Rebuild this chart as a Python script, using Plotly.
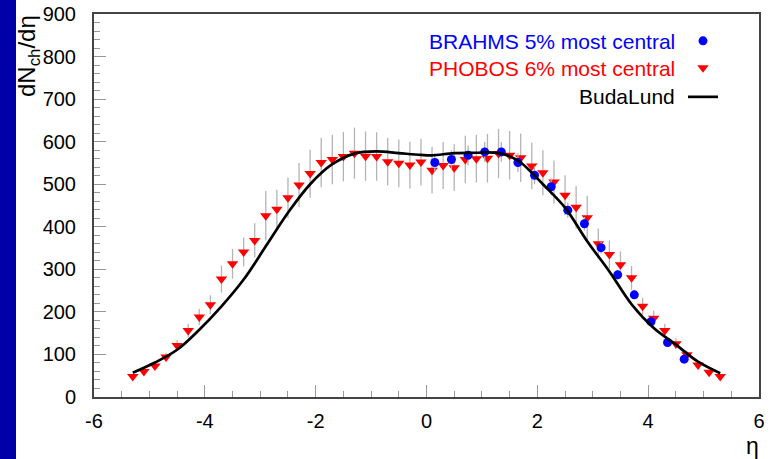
import plotly.graph_objects as go

# ---------------- data ----------------
phobos_eta = [-5.3, -5.1, -4.9, -4.7, -4.5, -4.3, -4.1, -3.9, -3.7, -3.5, -3.3, -3.1, -2.9, -2.7,
              -2.5, -2.3, -2.1, -1.9, -1.7, -1.5, -1.3, -1.1, -0.9, -0.7, -0.5, -0.3, -0.1,
              0.1, 0.3, 0.5, 0.7, 0.9, 1.1, 1.3, 1.5, 1.7, 1.9, 2.1, 2.3, 2.5, 2.7,
              2.9, 3.1, 3.3, 3.5, 3.7, 3.9, 4.1, 4.3, 4.5, 4.7, 4.9, 5.1, 5.3]
phobos_val = [48, 60, 73, 94, 121, 156, 188, 217, 277, 313, 341, 368, 426, 441,
              468, 498, 525, 551, 558, 565, 573, 566, 565, 553, 549, 545, 552,
              533, 544, 539, 558, 560, 561, 572, 568, 562, 543, 527, 505, 474, 446,
              421, 360, 335, 311, 280, 213, 185, 156, 125, 99, 75, 58, 48]
phobos_err = [5, 6, 7, 10, 13, 16, 19, 22, 32, 35, 34, 40, 58, 46,
              48, 52, 56, 58, 58, 58, 60, 58, 57, 56, 56, 55, 55,
              55, 55, 55, 56, 56, 57, 58, 57, 57, 55, 53, 51, 47, 50,
              52, 36, 33, 31, 28, 20, 18, 16, 13, 10, 8, 6, 5]

brahms_eta = [0.15, 0.45, 0.75, 1.05, 1.35, 1.65, 1.95, 2.25, 2.55, 2.85, 3.15, 3.45, 3.75, 4.05, 4.35, 4.65]
brahms_val = [551, 558, 568, 576, 576, 551, 521, 494, 439, 407, 351, 287, 240, 177, 128, 89]
brahms_err = [22, 22, 23, 23, 23, 22, 21, 20, 18, 16, 14, 11, 10, 7, 5, 4]

buda_eta = [-5.3, -4.9, -4.5, -4.1, -3.7, -3.3, -2.9, -2.5, -2.1, -1.7, -1.3, -0.9, -0.5, -0.1,
            0.1, 0.5, 0.9, 1.1, 1.3, 1.5, 1.7, 1.9, 2.1, 2.5, 2.9, 3.3, 3.7, 4.1, 4.5, 4.9, 5.3]
buda_val = [57, 81, 111, 158, 213, 276, 354, 433, 500, 547, 572, 577, 573, 569,
            568, 573, 574, 575, 573, 566, 551, 527, 500, 445, 366, 295, 218, 162, 123, 83, 56]

legend_labels = ["BRAHMS 5% most central", "PHOBOS 6% most central", "BudaLund"]
legend_colors = ["#0000FF", "#FF0000", "#000000"]

x_ticks = [-6, -4, -2, 0, 2, 4, 6]
y_ticks = [0, 100, 200, 300, 400, 500, 600, 700, 800, 900]

# ---------------- layout geometry (pixels) ----------------
W, H = 770, 459
ML, MR, MT, MB = 94, 11, 14, 62
PW, PH = W - ML - MR, H - MT - MB


def px_x(px):
    return (px - ML) / PW


def px_y(py):
    return 1 - (py - MT) / PH


FONT = "Liberation Sans, Arial, Helvetica, sans-serif"
ERRC = "#B4B4B4"

fig = go.Figure()

fig.add_trace(go.Scatter(
    x=phobos_eta, y=phobos_val, mode="markers", name=" ",
    marker=dict(symbol="triangle-down", size=10, color="#FF0000"),
    error_y=dict(type="data", array=phobos_err, color=ERRC, thickness=1.3, width=0),
    legend="legend2"))

fig.add_trace(go.Scatter(
    x=brahms_eta, y=brahms_val, mode="markers", name=" ",
    marker=dict(symbol="circle", size=9, color="#0000FF"),
    error_y=dict(type="data", array=brahms_err, color=ERRC, thickness=1.3, width=0),
    legend="legend"))

fig.add_trace(go.Scatter(
    x=buda_eta, y=buda_val, mode="lines", name=" ",
    line=dict(color="#000000", width=2.7, shape="spline", smoothing=1.0),
    legend="legend3"))

rows = [41, 68, 97]
legs = {}
for i, key in enumerate(["legend", "legend2", "legend3"]):
    legs[key] = dict(x=px_x(683), y=px_y(rows[i]), xanchor="left", yanchor="middle",
                     bgcolor="rgba(0,0,0,0)", borderwidth=0,
                     font=dict(family=FONT, size=19), itemwidth=30)

annotations = []
for i, (lab, col) in enumerate(zip(legend_labels, legend_colors)):
    annotations.append(dict(
        text=lab, x=px_x(677), y=px_y(rows[i]), xref="paper", yref="paper",
        xanchor="right", yanchor="middle", showarrow=False,
        font=dict(family=FONT, size=21, color=col)))

annotations.append(dict(
    text="dN<sub>ch</sub>/dη", x=px_x(28), y=px_y(56), xref="paper", yref="paper",
    xanchor="center", yanchor="middle", textangle=-90, showarrow=False,
    font=dict(family=FONT, size=24, color="#000000")))
annotations.append(dict(
    text="η", x=px_x(752), y=px_y(446), xref="paper", yref="paper",
    xanchor="center", yanchor="middle", showarrow=False,
    font=dict(family=FONT, size=23, color="#000000")))

shapes = [dict(type="rect", xref="paper", yref="paper",
               x0=px_x(0), x1=px_x(16), y0=px_y(H), y1=px_y(0),
               fillcolor="#0000A8", line=dict(width=0), layer="above")]

fig.update_layout(
    width=W, height=H,
    margin=dict(l=ML, r=MR, t=MT, b=MB, pad=0, autoexpand=False),
    paper_bgcolor="white", plot_bgcolor="white",
    showlegend=True,
    legend=legs["legend"], legend2=legs["legend2"], legend3=legs["legend3"],
    annotations=annotations, shapes=shapes,
    font=dict(family=FONT, size=20, color="#000000"),
)

fig.update_xaxes(
    range=[-6, 6], tickvals=x_ticks, ticktext=[str(v) for v in x_ticks],
    showgrid=False, zeroline=False, automargin=False,
    showline=True, mirror=True, linecolor="#444444", linewidth=2,
    ticks="inside", ticklen=12, tickwidth=1, tickcolor="#999999",
    minor=dict(dtick=0.5, tick0=0, ticks="inside", ticklen=6, tickwidth=1, tickcolor="#999999", showgrid=False),
    tickfont=dict(family=FONT, size=20, color="#000000"),
    ticklabelstandoff=5,
)
fig.update_yaxes(
    range=[0, 900], tickvals=y_ticks, ticktext=[str(v) for v in y_ticks],
    showgrid=False, zeroline=False, automargin=False,
    showline=True, mirror=True, linecolor="#444444", linewidth=2,
    ticks="inside", ticklen=12, tickwidth=1, tickcolor="#999999",
    minor=dict(dtick=20, tick0=0, ticks="inside", ticklen=6, tickwidth=1, tickcolor="#999999", showgrid=False),
    tickfont=dict(family=FONT, size=20, color="#000000"),
    ticklabelstandoff=12,
)

fig.write_html("out.html")
